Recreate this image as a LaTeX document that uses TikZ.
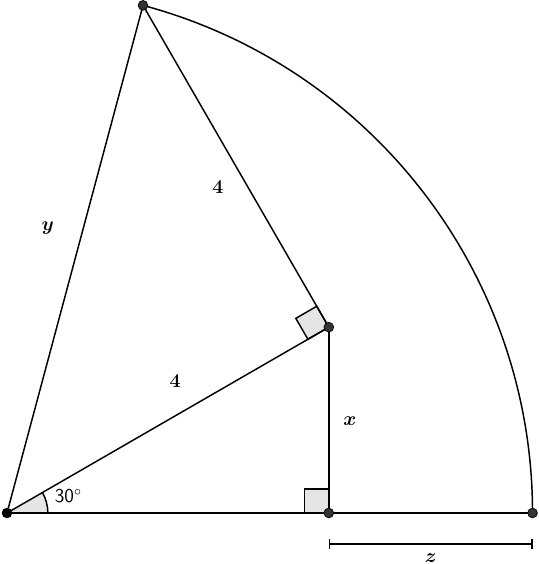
\documentclass[tikz,border=0pt]{standalone}
\usepackage{tikz}
\usetikzlibrary{calc, positioning, arrows.meta}
\colorlet{Mark}{gray!20}
\colorlet{Dot}{black!80}

\begin{document}
\begin{tikzpicture}[
  x=2cm, y=2cm,
  edge/.style={line width=0.9pt},
  dot/.style={circle,fill=Dot,draw=black,inner sep=0pt,minimum size=6pt},
  rightbox/.style={fill=Mark,draw=black,line width=0.9pt},
  label/.style={font=\large\boldmath}
]
\useasboundingbox (-0.0753,-0.549) rectangle (5.716,5.522);

\coordinate (O) at (0,0);
\coordinate (A) at (30:4);
\coordinate (F) at (A |- O);
\coordinate (B) at ($(A)+(120:4)$);
\coordinate (C) at ({sqrt(32)},0);

% right angle marks and the angle at O
\fill[Mark] (O) -- (0.44,0) arc[start angle=0,end angle=30,radius=0.44] -- cycle;
\draw[edge] (0.44,0) arc[start angle=0,end angle=30,radius=0.44];
\draw[rightbox] (A) -- ++(210:0.26) -- ++(120:0.26) -- ++(30:0.26) -- cycle;
\draw[rightbox] (F) -- ++(-0.26,0) -- ++(0,0.26) -- ++(0.26,0) -- cycle;

% sides
\draw[edge] (O) -- (C);
\draw[edge] (O) -- (A);
\draw[edge] (A) -- (F);
\draw[edge] (A) -- (B);
\draw[edge] (O) -- (B);
\draw[edge] (C) arc[start angle=0,end angle=75,radius={sqrt(32)}];

% measure of z
\coordinate (zl) at ($(F)+(0,-0.334)$);
\coordinate (zr) at ($(C)+(0,-0.334)$);
\draw[edge,{Bar[width=6pt]}-{Bar[width=6pt]}] (zl) -- (zr) node [label, midway, below=2pt] {$z$};

% points
\node[dot, fill=black] (o) at (O) {};
\node[dot] (a) at (A) {};
\node[dot] (f) at (F) {};
\node[dot] (b) at (B) {};
\node[dot] (c) at (C) {};

% labels
\node[label] (l1) at (2.27,3.51) {$4$};
\node[label] (l2) at (1.81,1.42) {$4$};
\node[label] (ly) at (0.44,3.07) {$y$};
\node[label] (lx) at (3.69,0.99) {$x$};
\node[font=\large\sffamily] (la) at (0.66,0.18) {30$^\circ$};
\end{tikzpicture}
\end{document}
